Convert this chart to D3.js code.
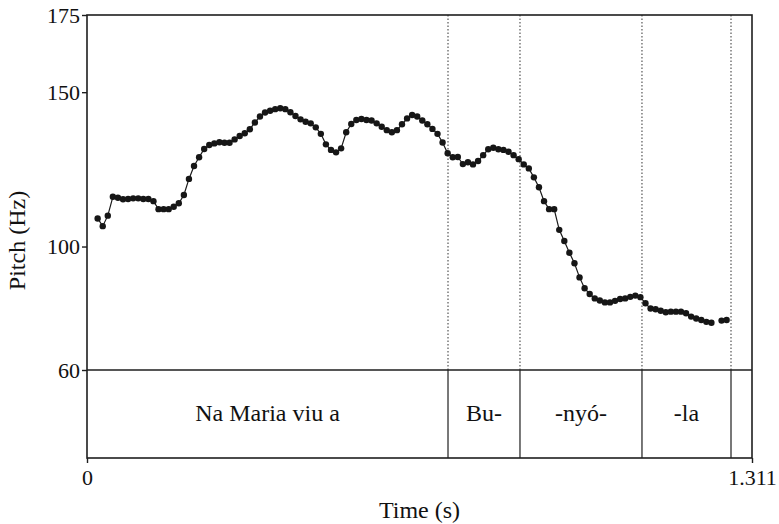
<!DOCTYPE html>
<html>
<head>
<meta charset="utf-8">
<script src="https://cdn.jsdelivr.net/npm/d3@7"></script>
<style>
  body { margin: 0; background: #fff; }
  text { font-family: "Liberation Serif", "Times New Roman", serif; fill: #111; }
</style>
</head>
<body>
<svg id="chart"></svg>
<script>
// pitch track (Praat frames, seconds / Hz); null = unvoiced frame
const frameTimes = [
  0.021, 0.031, 0.041, 0.051, 0.061, 0.071, 0.081, 0.091, 0.101, 0.111,
  0.121, 0.131, 0.141, 0.151, 0.161, 0.171, 0.181, 0.191, 0.201, 0.211,
  0.221, 0.231, 0.241, 0.251, 0.261, 0.271, 0.281, 0.291, 0.301, 0.311,
  0.321, 0.331, 0.341, 0.351, 0.361, 0.371, 0.381, 0.391, 0.401, 0.411,
  0.421, 0.431, 0.441, 0.451, 0.461, 0.471, 0.481, 0.491, 0.501, 0.511,
  0.521, 0.531, 0.541, 0.551, 0.561, 0.571, 0.581, 0.591, 0.601, 0.611,
  0.621, 0.631, 0.641, 0.651, 0.661, 0.671, 0.681, 0.691, 0.701, 0.711,
  0.721, 0.731, 0.741, 0.751, 0.761, 0.771, 0.781, 0.791, 0.801, 0.811,
  0.821, 0.831, 0.841, 0.851, 0.861, 0.871, 0.881, 0.891, 0.901, 0.911,
  0.921, 0.931, 0.941, 0.951, 0.961, 0.971, 0.981, 0.991, 1.001, 1.011,
  1.021, 1.031, 1.041, 1.051, 1.061, 1.071, 1.081, 1.091, 1.101, 1.111,
  1.121, 1.131, 1.141, 1.151, 1.161, 1.171, 1.181, 1.191, 1.201, 1.211,
  1.221, 1.231, 1.241, 1.251, 1.261
];
const pitchHz = [
  109.1, 106.6, 110.0, 116.1, 115.8, 115.3, 115.4, 115.6, 115.6, 115.4,
  115.4, 114.7, 112.1, 112.1, 112.1, 112.9, 114.0, 116.7, 121.9, 126.1,
  128.9, 131.6, 132.9, 133.4, 133.8, 133.6, 133.6, 134.7, 135.8, 136.7,
  138.0, 140.2, 142.1, 143.4, 144.0, 144.5, 144.8, 144.5, 143.5, 142.3,
  141.2, 140.4, 139.9, 138.6, 136.5, 133.1, 131.3, 130.5, 131.8, 137.0,
  139.7, 141.0, 141.3, 141.0, 140.8, 139.9, 138.8, 137.7, 137.0, 137.7,
  139.6, 141.5, 142.6, 142.1, 140.8, 139.6, 138.1, 136.5, 133.7, 130.2,
  128.9, 129.0, 126.7, 127.3, 126.6, 127.7, 129.6, 131.5, 132.0, 131.5,
  131.3, 130.7, 129.6, 128.3, 126.6, 125.3, 122.4, 119.2, 114.7, 112.1,
  112.1, 105.4, 101.8, 98.0, 94.6, 90.0, 86.5, 84.6, 83.2, 82.5,
  81.9, 81.9, 82.4, 83.0, 83.2, 83.7, 84.1, 83.6, 81.6, 79.9,
  79.7, 79.2, 78.7, 78.9, 78.9, 78.9, 78.4, 77.3, 76.7, 76.2,
  75.6, 75.3, null, 76.0, 76.2
];

// text grid tier
const boundaryTimes = [0.7117, 0.8536, 1.0941, 1.2696];
const intervalLabels = ["Na Maria viu a", "Bu-", "-nyó-", "-la", ""];

const pitchTicks = [60, 100, 150, 175];
const timeTicks = [0, 1.311];

const width = 779, height = 524;
const plot = { left: 87, right: 752, top: 15, bottom: 370 };
const tierBottom = 458;
const ink = '#1e1e1e';
const labelSize = 24;
const tickSize = 22;

const svg = d3.select('#chart')
  .attr('width', width)
  .attr('height', height);

const x = d3.scaleLinear()
  .domain([0, 1.311])
  .range([plot.left, plot.right]);

const y = d3.scaleLinear()
  .domain([60, 175])
  .range([plot.bottom, plot.top]);

const points = frameTimes.map((t, i) => ({ t: t, hz: pitchHz[i] }));

// dotted boundary lines through the pitch panel
svg.append('g')
  .selectAll('line')
  .data(boundaryTimes)
  .enter().append('line')
    .attr('x1', d => x(d)).attr('x2', d => x(d))
    .attr('y1', plot.top).attr('y2', plot.bottom)
    .attr('stroke', '#333')
    .attr('stroke-width', 1)
    .attr('stroke-dasharray', '1.5,2');

// pitch contour
const line = d3.line()
  .defined(d => d.hz != null)
  .x(d => x(d.t))
  .y(d => y(d.hz));

svg.append('path')
  .datum(points)
  .attr('d', line)
  .attr('fill', 'none')
  .attr('stroke', '#1a1a1a')
  .attr('stroke-width', 1.2);

svg.append('g')
  .selectAll('circle')
  .data(points.filter(d => d.hz != null))
  .enter().append('circle')
    .attr('cx', d => x(d.t))
    .attr('cy', d => y(d.hz))
    .attr('r', 3.2)
    .attr('fill', '#161616');

// tier boundaries
svg.append('g')
  .selectAll('line')
  .data(boundaryTimes)
  .enter().append('line')
    .attr('x1', d => x(d)).attr('x2', d => x(d))
    .attr('y1', plot.bottom).attr('y2', tierBottom)
    .attr('stroke', ink)
    .attr('stroke-width', 1.2);

const edges = [0].concat(boundaryTimes, [1.311]);
svg.append('g')
  .selectAll('text')
  .data(intervalLabels)
  .enter().append('text')
    .attr('x', (d, i) => x((edges[i] + edges[i + 1]) / 2))
    .attr('y', (plot.bottom + tierBottom) / 2)
    .attr('dy', '0.3em')
    .attr('text-anchor', 'middle')
    .attr('font-size', labelSize)
    .text(d => d);

// frame
svg.append('rect')
  .attr('x', plot.left).attr('y', plot.top)
  .attr('width', plot.right - plot.left)
  .attr('height', tierBottom - plot.top)
  .attr('fill', 'none')
  .attr('stroke', ink)
  .attr('stroke-width', 1.6);

svg.append('line')
  .attr('x1', plot.left).attr('x2', plot.right)
  .attr('y1', plot.bottom).attr('y2', plot.bottom)
  .attr('stroke', ink)
  .attr('stroke-width', 1.6);

// axes
const yAxis = d3.axisLeft(y)
  .tickValues(pitchTicks)
  .tickSize(5)
  .tickPadding(2)
  .tickFormat(d3.format('d'));

const yg = svg.append('g')
  .attr('transform', `translate(${plot.left},0)`)
  .call(yAxis);
yg.select('.domain').remove();
yg.selectAll('line').attr('stroke', ink).attr('stroke-width', 1.4);
yg.selectAll('text')
  .attr('font-family', '"Liberation Serif", serif')
  .attr('font-size', tickSize)
  .attr('fill', '#111');

const xAxis = d3.axisBottom(x)
  .tickValues(timeTicks)
  .tickSize(5)
  .tickPadding(6)
  .tickFormat(d => d === 0 ? '0' : d3.format('.3f')(d));

const xg = svg.append('g')
  .attr('transform', `translate(0,${tierBottom})`)
  .call(xAxis);
xg.select('.domain').remove();
xg.selectAll('line').attr('stroke', ink).attr('stroke-width', 1.4);
xg.selectAll('text')
  .attr('font-family', '"Liberation Serif", serif')
  .attr('font-size', tickSize)
  .attr('fill', '#111');

svg.append('text')
  .attr('x', (plot.left + plot.right) / 2)
  .attr('y', 510)
  .attr('dy', '0.35em')
  .attr('text-anchor', 'middle')
  .attr('font-size', labelSize)
  .text('Time (s)');

svg.append('text')
  .attr('transform', `translate(17,${(plot.top + plot.bottom) / 2 + 48}) rotate(-90)`)
  .attr('dy', '0.35em')
  .attr('text-anchor', 'middle')
  .attr('font-size', labelSize)
  .text('Pitch (Hz)');
</script>
</body>
</html>
